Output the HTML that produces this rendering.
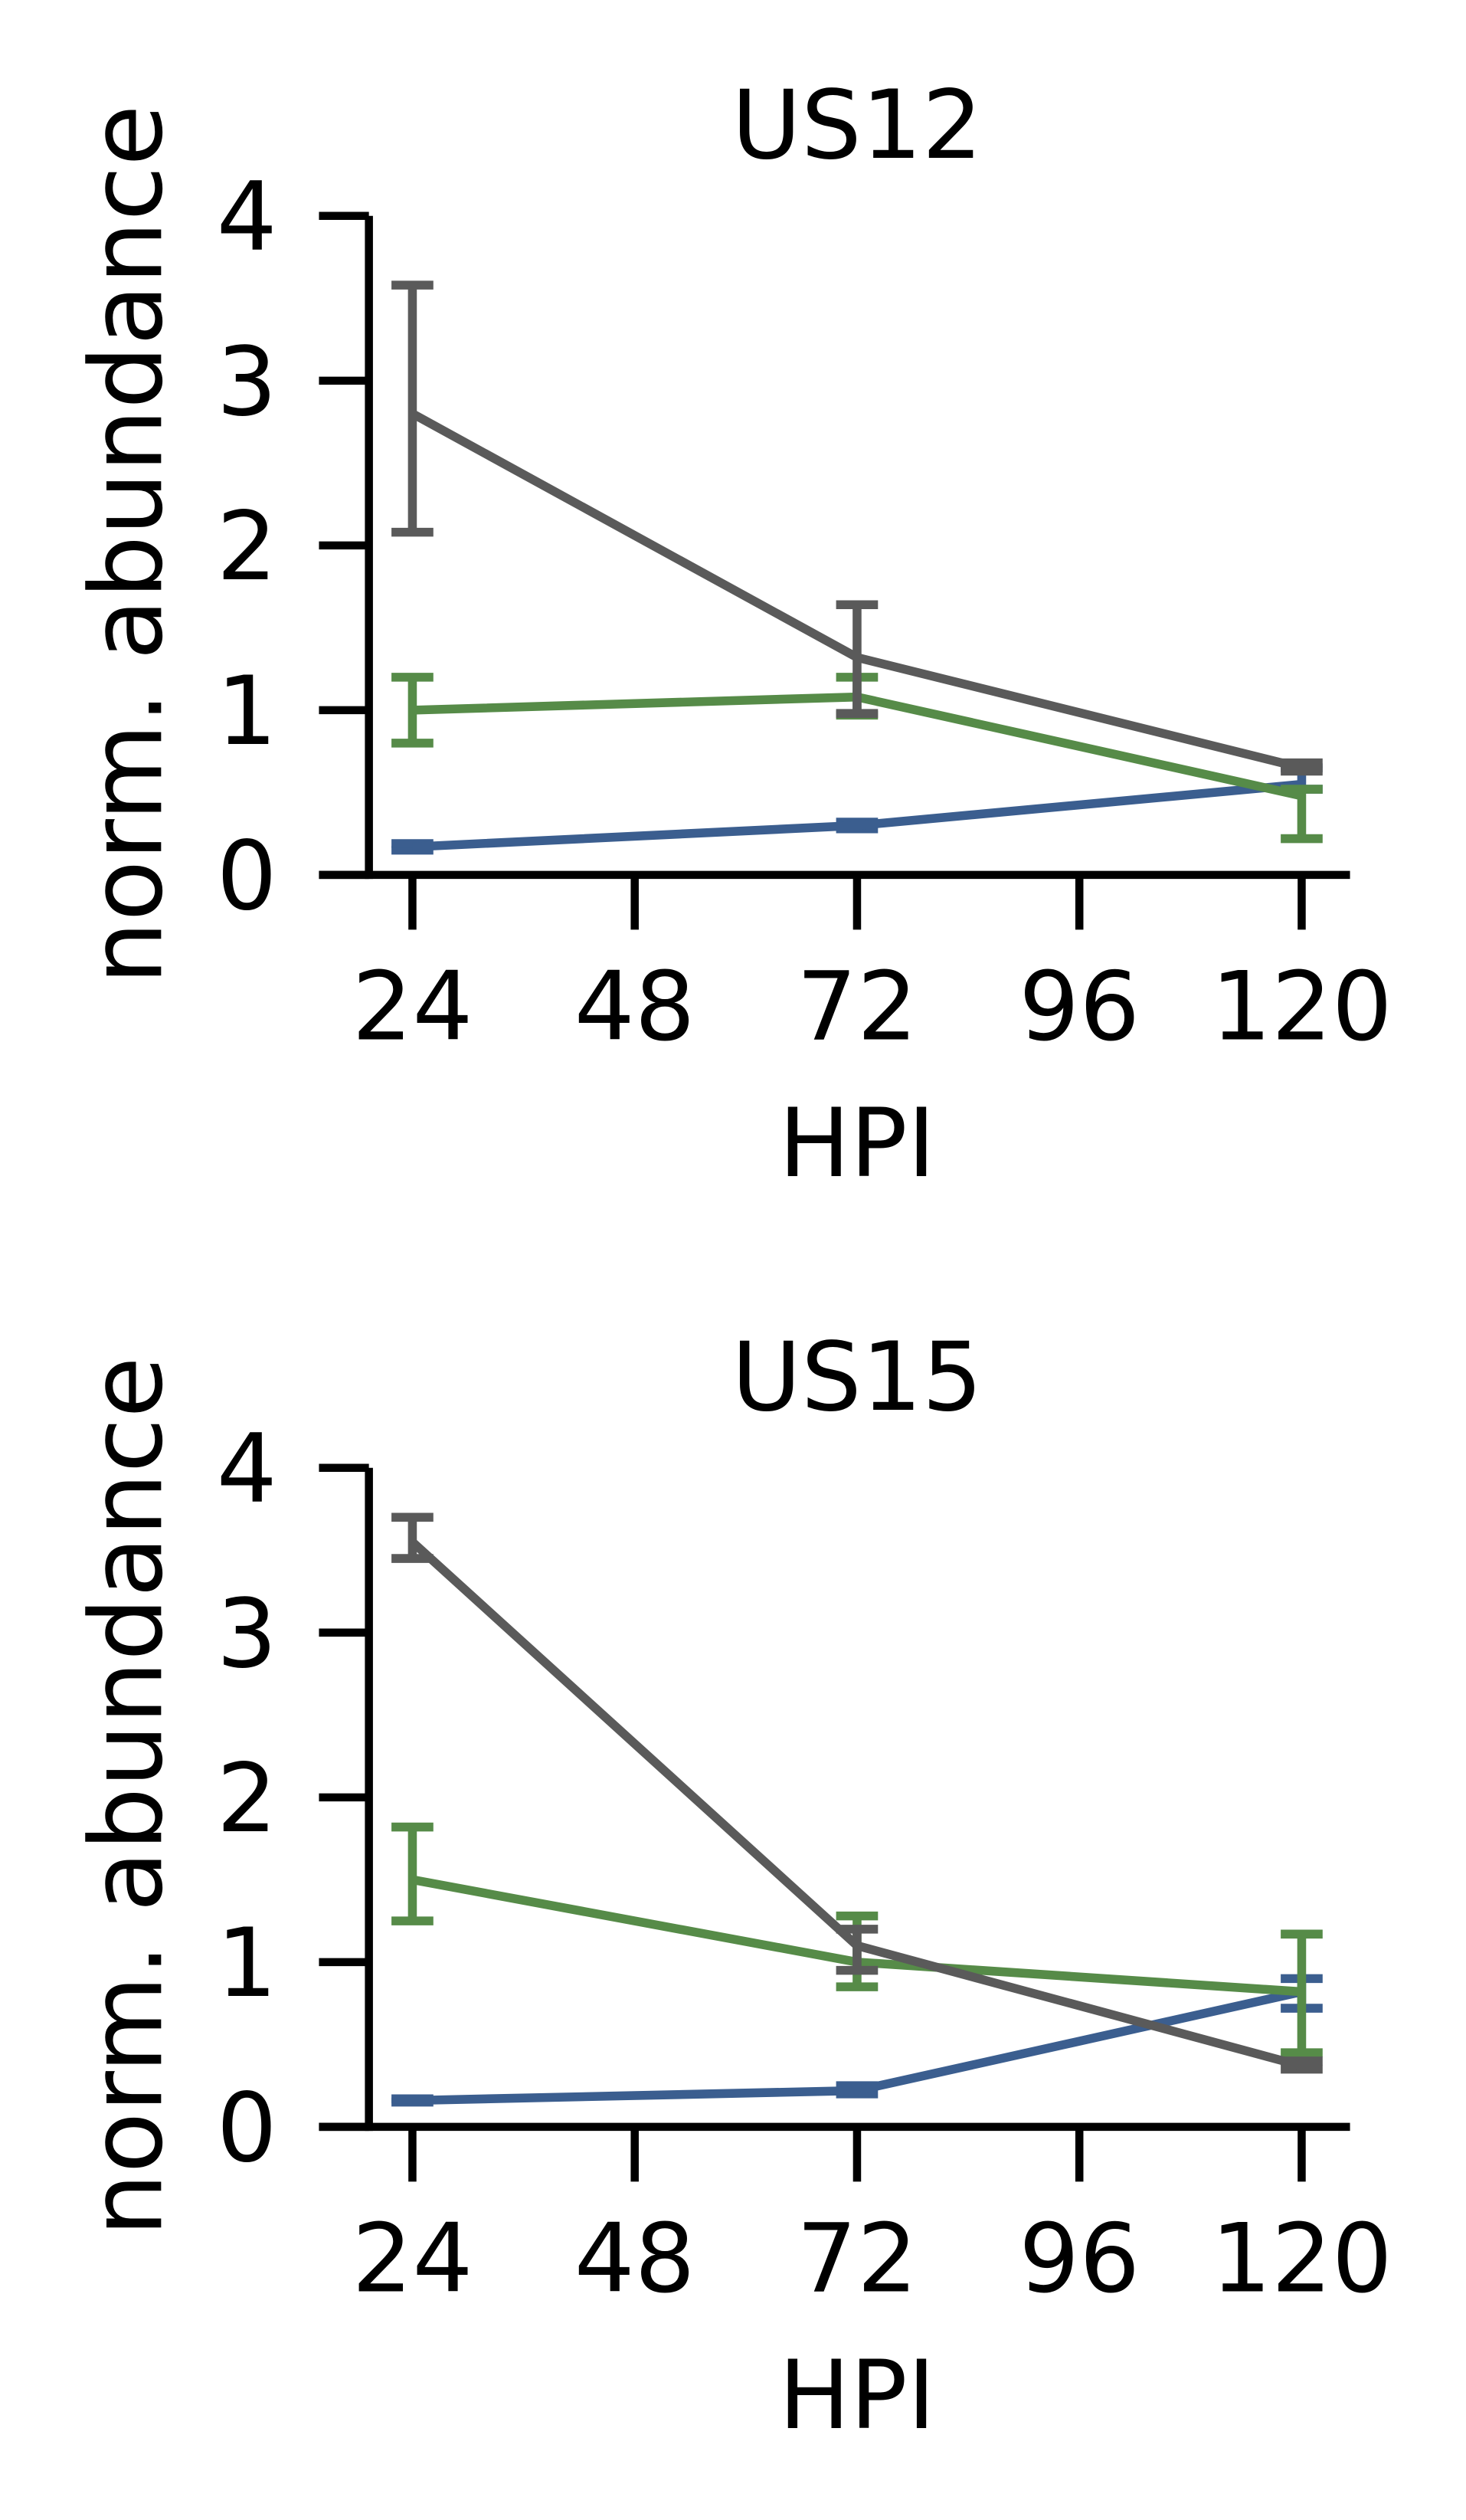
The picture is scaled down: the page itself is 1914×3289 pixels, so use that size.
<!DOCTYPE html>
<html><head><meta charset="utf-8"><style>
html,body{margin:0;padding:0;background:#fff}
svg{display:block}
text{font-family:"DejaVu Sans","Liberation Sans",sans-serif;fill:#000}
</style></head><body>
<svg id="fig" width="1914" height="3289" viewBox="0 0 910 1564" preserveAspectRatio="none" xmlns="http://www.w3.org/2000/svg"></svg>
<script>
const hpiTicks=[24,48,72,96,120];
const yTicks=[0,1,2,3,4];
const xVals=[24,72,120];
const us12Gray=[2.8,1.32,0.65];
const us12GrayLo=[2.08,0.98,0.63];
const us12GrayHi=[3.58,1.64,0.68];
const us12Green=[1.0,1.08,0.48];
const us12GreenLo=[0.8,0.97,0.22];
const us12GreenHi=[1.2,1.2,0.52];
const us12Blue=[0.17,0.3,0.55];
const us12BlueLo=[0.15,0.28,0.52];
const us12BlueHi=[0.19,0.32,0.65];
const us15Gray=[3.55,1.1,0.37];
const us15GrayLo=[3.45,0.95,0.35];
const us15GrayHi=[3.7,1.2,0.4];
const us15Green=[1.5,1.0,0.82];
const us15GreenLo=[1.25,0.85,0.45];
const us15GreenHi=[1.82,1.28,1.17];
const us15Blue=[0.16,0.22,0.82];
const us15BlueLo=[0.15,0.2,0.72];
const us15BlueHi=[0.17,0.25,0.9];

const NS="http://www.w3.org/2000/svg";
const svg=document.getElementById('fig');
function mk(tag,attrs,parent){const e=document.createElementNS(NS,tag);for(const k in attrs)e.setAttribute(k,attrs[k]);(parent||svg).appendChild(e);return e;}
const FS=59;
const LW=5.5;
function panel(name,top,title,series){
  const g=mk('g',{});
  
  
  const y0=top+409, y4=top;
  const X=v=>256+(v-24)*(808-256)/96;
  const Y=v=>y0-v*(y0-y4)/4;
  const t=mk('text',{x:532,y:top-36,'font-size':FS,'text-anchor':'middle'},g);t.textContent=title;
  
  
  const sp=mk('line',{x1:229,y1:y4,x2:229,y2:y0+2.5,stroke:'#000','stroke-width':5},g);
  
  
  const sx=mk('line',{x1:198,y1:y0,x2:838,y2:y0,stroke:'#000','stroke-width':5},g);
  
  
  yTicks.forEach(v=>{
    mk('line',{x1:198,y1:Y(v),x2:229,y2:Y(v),stroke:'#000','stroke-width':5},g);
    const l=mk('text',{x:172,y:Y(v)+21,'font-size':FS,'text-anchor':'end'},g);l.textContent=v;
    
    
  });
  hpiTicks.forEach(v=>{
    mk('line',{x1:X(v),y1:y0,x2:X(v),y2:y0+34,stroke:'#000','stroke-width':5},g);
    const l=mk('text',{x:X(v),y:y0+102,'font-size':FS,'text-anchor':'middle'},g);l.textContent=v;
    
    
  });
  const xl=mk('text',{x:532,y:y0+187,'font-size':FS,'text-anchor':'middle'},g);xl.textContent='HPI';
  
  
  const yl=mk('text',{x:0,y:0,'font-size':62,'text-anchor':'middle',transform:`translate(100,${top+204}) rotate(-90)`},g);yl.textContent='norm. abundance';
  
  
  series.forEach(s=>{
    const sg=mk('g',{},g);
    
    
    s.v.forEach((v,i)=>{
      const x=X(xVals[i]);
      mk('line',{x1:x,y1:Y(s.lo[i]),x2:x,y2:Y(s.hi[i]),stroke:s.c,'stroke-width':LW},sg);
      mk('line',{x1:x-13,y1:Y(s.lo[i]),x2:x+13,y2:Y(s.lo[i]),stroke:s.c,'stroke-width':LW},sg);
      mk('line',{x1:x-13,y1:Y(s.hi[i]),x2:x+13,y2:Y(s.hi[i]),stroke:s.c,'stroke-width':LW},sg);
    });
    const pl=mk('polyline',{points:s.v.map((v,i)=>X(xVals[i])+','+Y(v)).join(' '),fill:'none',stroke:s.c,'stroke-width':LW},sg);
    
    
  });
}
panel('us12',134,'US12',[
  {id:'blue',c:'#3b5e8f',v:us12Blue,lo:us12BlueLo,hi:us12BlueHi},
  {id:'green',c:'#568b48',v:us12Green,lo:us12GreenLo,hi:us12GreenHi},
  {id:'gray',c:'#5a5a5a',v:us12Gray,lo:us12GrayLo,hi:us12GrayHi}]);
panel('us15',911,'US15',[
  {id:'blue',c:'#3b5e8f',v:us15Blue,lo:us15BlueLo,hi:us15BlueHi},
  {id:'green',c:'#568b48',v:us15Green,lo:us15GreenLo,hi:us15GreenHi},
  {id:'gray',c:'#5a5a5a',v:us15Gray,lo:us15GrayLo,hi:us15GrayHi}]);
</script>
</body></html>
